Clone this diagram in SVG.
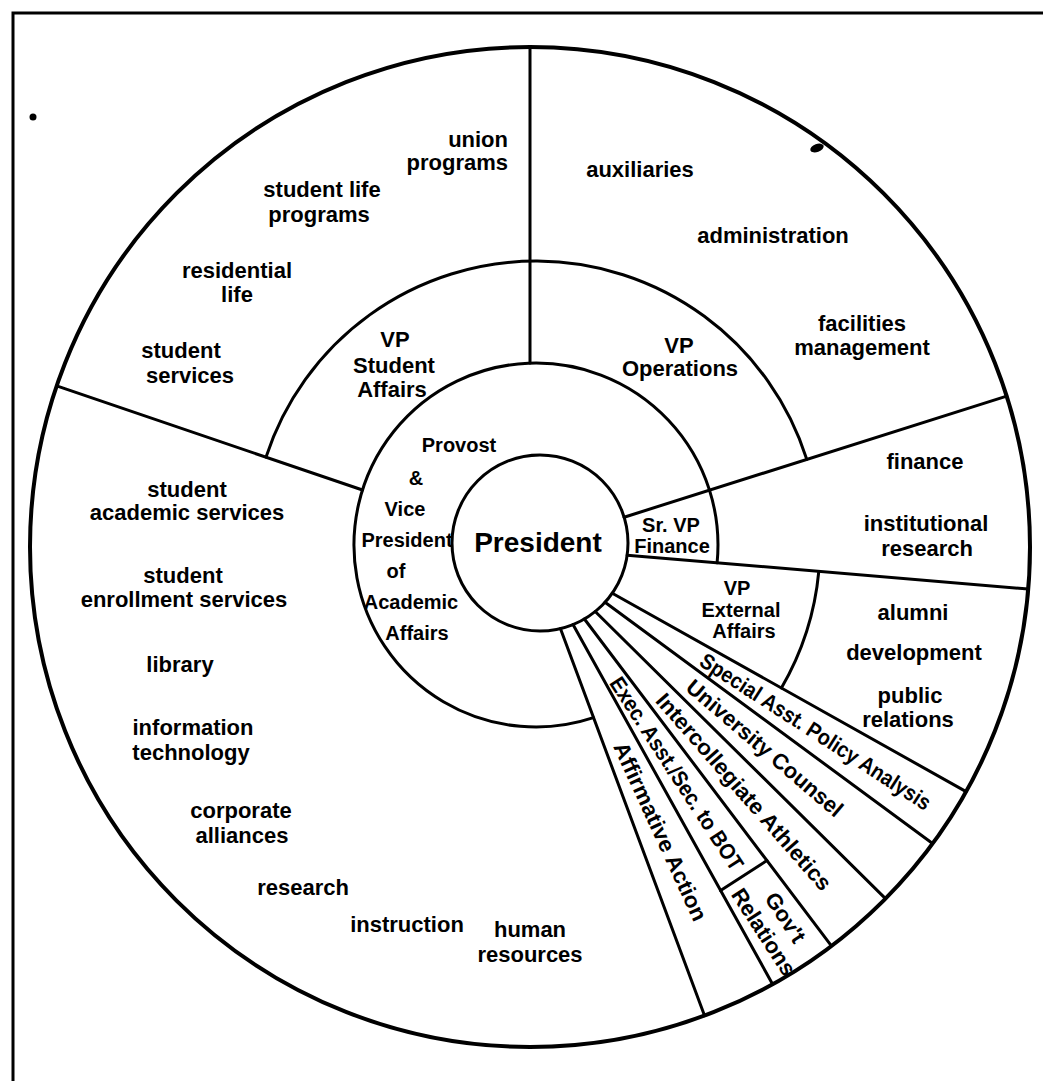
<svg xmlns="http://www.w3.org/2000/svg" width="1043" height="1081" viewBox="0 0 1043 1081">
<style>
.ln{fill:none;stroke:#000;stroke-width:3;stroke-linecap:round}
.ob{fill:none;stroke:#000;stroke-width:4}
.t{font-family:"Liberation Sans",Arial,sans-serif;font-weight:bold;font-size:22px;text-anchor:middle;fill:#000}
.s{font-size:20px}
.p{font-size:28px}
</style>
<rect width="1043" height="1081" fill="#fff"/>
<g id="frame">
<path class="ln" d="M13 1081 V13 H1043"/>
<circle cx="33" cy="117" r="3.5" fill="#000"/>
<ellipse cx="817" cy="148" rx="7" ry="4" fill="#000" transform="rotate(-20 817 148)"/>
</g>
<g id="connectors">
<circle class="ob" cx="530" cy="547" r="500"/>
<circle class="ln" cx="540" cy="543" r="88"/>
<path class="ln" d="M593.5 717.7 A182 182 0 1 1 717.1 562.8"/>
<path class="ln" d="M266 457.1 A284 284 0 0 1 806.8 459.4"/>
<path class="ln" d="M818.8 571.4 A284 284 0 0 1 781.4 688"/>
<line class="ln" x1="530" y1="47" x2="530" y2="363.1"/>
<line class="ln" x1="56.7" y1="385.9" x2="362.5" y2="490"/>
<line class="ln" x1="624.1" y1="517.2" x2="1006.7" y2="396.1"/>
<line class="ln" x1="627.2" y1="555.2" x2="1028.2" y2="589"/>
<line class="ln" x1="612.3" y1="593.2" x2="966.1" y2="791.6"/>
<line class="ln" x1="605" y1="602.3" x2="932.6" y2="843.5"/>
<line class="ln" x1="595.2" y1="611.5" x2="885.5" y2="898.6"/>
<line class="ln" x1="584.4" y1="619" x2="831.4" y2="945.9"/>
<line class="ln" x1="573" y1="624.6" x2="772.6" y2="984.2"/>
<line class="ln" x1="560.4" y1="628.6" x2="704.5" y2="1015.6"/>
<line class="ln" x1="720.6" y1="890.6" x2="766.9" y2="860.6"/>
</g>
<g id="president">
<text class="t p" x="538" y="552">President</text>
</g>
<g id="vp-student-affairs">
<text class="t" x="395" y="347">VP</text>
<text class="t" x="394" y="373">Student</text>
<text class="t" x="392" y="397">Affairs</text>
<text class="t" x="508" y="147" style="text-anchor:end">union</text>
<text class="t" x="508" y="170" style="text-anchor:end">programs</text>
<text class="t" x="322" y="197">student life</text>
<text class="t" x="319" y="222">programs</text>
<text class="t" x="237" y="278">residential</text>
<text class="t" x="237" y="302">life</text>
<text class="t" x="181" y="358">student</text>
<text class="t" x="190" y="383">services</text>
</g>
<g id="vp-operations">
<text class="t" x="679" y="353">VP</text>
<text class="t" x="680" y="376">Operations</text>
<text class="t" x="640" y="177">auxiliaries</text>
<text class="t" x="773" y="243">administration</text>
<text class="t" x="862" y="331">facilities</text>
<text class="t" x="862" y="355">management</text>
</g>
<g id="sr-vp-finance">
<text class="t s" x="671" y="532">Sr. VP</text>
<text class="t s" x="672" y="553">Finance</text>
<text class="t" x="925" y="469">finance</text>
<text class="t" x="926" y="531">institutional</text>
<text class="t" x="927" y="556">research</text>
</g>
<g id="vp-external-affairs">
<text class="t s" x="737" y="595">VP</text>
<text class="t s" x="741" y="617">External</text>
<text class="t s" x="744" y="638">Affairs</text>
<text class="t" x="913" y="620">alumni</text>
<text class="t" x="914" y="660">development</text>
<text class="t" x="910" y="703">public</text>
<text class="t" x="908" y="727">relations</text>
</g>
<g id="provost">
<text class="t s" x="459" y="452">Provost</text>
<text class="t s" x="416" y="485">&amp;</text>
<text class="t s" x="405" y="516">Vice</text>
<text class="t s" x="407" y="547">President</text>
<text class="t s" x="396" y="578">of</text>
<text class="t s" x="411" y="609">Academic</text>
<text class="t s" x="417" y="640">Affairs</text>
<text class="t" x="187" y="497">student</text>
<text class="t" x="187" y="520">academic services</text>
<text class="t" x="183" y="583">student</text>
<text class="t" x="184" y="607">enrollment services</text>
<text class="t" x="180" y="672">library</text>
<text class="t" x="193" y="735">information</text>
<text class="t" x="191" y="760">technology</text>
<text class="t" x="241" y="818">corporate</text>
<text class="t" x="242" y="843">alliances</text>
<text class="t" x="303" y="895">research</text>
<text class="t" x="407" y="932">instruction</text>
<text class="t" x="530" y="937">human</text>
<text class="t" x="530" y="962">resources</text>
</g>
<g id="special-asst">
<text class="t" transform="translate(815.8 731.2) rotate(32.8)" x="0" y="8" textLength="270" lengthAdjust="spacingAndGlyphs">Special Asst. Policy Analysis</text>
</g>
<g id="university-counsel">
<text class="t" transform="translate(765 747.7) rotate(40.5)" x="0" y="8" textLength="198" lengthAdjust="spacingAndGlyphs">University Counsel</text>
</g>
<g id="intercollegiate-athletics">
<text class="t" transform="translate(744.1 791.5) rotate(48.8)" x="0" y="8" textLength="254" lengthAdjust="spacingAndGlyphs">Intercollegiate Athletics</text>
</g>
<g id="exec-asst">
<text class="t" transform="translate(677.1 773.3) rotate(57)" x="0" y="8" textLength="226" lengthAdjust="spacingAndGlyphs">Exec. Asst./Sec. to BOT</text>
</g>
<g id="govt-relations">
<text class="t" transform="translate(775 924.5) rotate(57)" x="0" y="-5">Gov't</text>
<text class="t" transform="translate(775 924.5) rotate(57)" x="0" y="21">Relations</text>
</g>
<g id="affirmative-action">
<text class="t" transform="translate(660.8 831.4) rotate(65.3)" x="0" y="8" textLength="194" lengthAdjust="spacingAndGlyphs">Affirmative Action</text>
</g>
</svg>
